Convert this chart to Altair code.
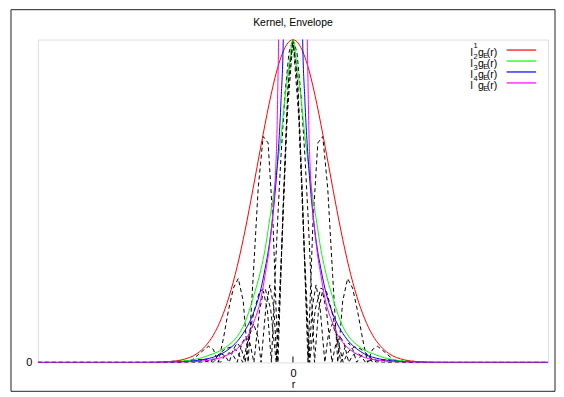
import altair as alt
import pandas as pd

# ---------------- data (half profiles, r >= 0; the chart is mirror-symmetric) -------------
SERIES = ["e1", "e2", "e3", "e4"]
COLORS = ["#ff0000", "#00ff00", "#0000ff", "#ff00ff"]

# envelopes
r_red = [0, 0.5, 1, 1.5, 2, 2.5, 3, 3.5, 4, 4.5, 5, 5.5, 6, 7, 8, 9, 10, 16]
v_red = [1, 0.975, 0.906, 0.80, 0.673, 0.539, 0.41, 0.297, 0.205, 0.135, 0.084, 0.05,
         0.028, 0.0078, 0.0018, 0.0003, 0, 0]

r_green = [0, 0.25, 0.5, 0.75, 1, 1.25, 1.5, 1.75, 2, 2.5, 3, 3.5, 4, 4.5, 5, 5.5, 6, 7, 8, 9, 16]
v_green = [1, 0.92, 0.82, 0.70, 0.60, 0.51, 0.43, 0.35, 0.29, 0.20, 0.125, 0.08, 0.055,
           0.038, 0.027, 0.018, 0.011, 0.004, 0.001, 0, 0]

r_blue = [0.5, 0.6, 0.75, 1, 1.25, 1.5, 1.75, 2, 2.5, 3, 3.5, 4, 4.5, 5, 5.5, 6, 7, 8, 9, 16]
v_blue = [1.6, 1.02, 0.81, 0.60, 0.46, 0.36, 0.29, 0.23, 0.15, 0.10, 0.065, 0.042, 0.026,
          0.016, 0.01, 0.006, 0.002, 0.0005, 0, 0]

r_mag = [0.8, 0.9, 0.95, 1.0, 1.1, 1.25, 1.5, 1.75, 2, 2.5, 2.75, 3, 3.5, 4, 4.5, 5, 6, 7, 8, 16]
v_mag = [1.6, 1.0, 0.85, 0.72, 0.58, 0.47, 0.35, 0.27, 0.20, 0.12, 0.09, 0.07, 0.043, 0.026,
         0.015, 0.009, 0.003, 0.001, 0, 0]

# kernels (dashed)
r_k1 = [0, 0.31, 0.62, 0.94, 1.25, 1.56, 1.87, 2.18, 2.49, 2.81, 3.12, 3.43, 3.74, 4.05, 4.36,
        4.68, 4.99, 5.3, 5.61, 5.92, 6.23, 6.55, 6.86, 7.17, 7.48, 7.79, 8.1, 8.42, 16]
v_k1 = [1, 0.86, 0.48, 0, 0.43, 0.68, 0.70, 0.54, 0.27, 0, 0.19, 0.26, 0.23, 0.16, 0.075,
        0, 0.04, 0.05, 0.038, 0.025, 0.011, 0, 0.005, 0.005, 0.004, 0.002, 0.001, 0, 0]

r_k2 = [0, 0.35, 0.7, 1.05, 1.4, 1.75, 2.1, 2.45, 2.8, 3.15, 3.5, 3.85, 4.2, 4.55, 4.9, 5.25,
        5.6, 5.95, 6.3, 6.65, 7.0, 7.35, 16]
v_k2 = [1, 0.77, 0.36, 0, 0.165, 0.23, 0.22, 0.156, 0.072, 0, 0.035, 0.048, 0.043, 0.03,
        0.013, 0, 0.007, 0.009, 0.008, 0.005, 0.002, 0, 0]

r_k3 = [0, 0.2, 0.4, 0.6, 0.8, 1.0, 1.2, 1.45, 1.7, 2.0, 2.2, 2.47, 2.75, 3.0, 3.25, 3.5,
        3.75, 4.0, 4.25, 4.5, 4.75, 5.0, 5.5, 6.0, 6.5, 7, 16]
v_k3 = [1, 0.93, 0.75, 0.49, 0.22, 0, 0.17, 0.24, 0.17, 0, 0.08, 0.12, 0.08, 0, 0.045, 0.06,
        0.04, 0, 0.02, 0.027, 0.018, 0, 0.01, 0, 0.004, 0, 0]

r_k4 = [0, 0.25, 0.5, 0.75, 0.94, 1.1, 1.25, 1.35, 1.6, 1.85, 2.1, 2.45, 2.7, 2.95, 3.2, 3.5,
        3.75, 4.0, 4.25, 4.55, 5.05, 5.6, 6.1, 16]
v_k4 = [1, 0.96, 0.83, 0.64, 0.46, 0.29, 0.12, 0, 0.16, 0.22, 0.16, 0, 0.06, 0.08, 0.06, 0,
        0.022, 0.03, 0.022, 0, 0.01, 0, 0, 0]

legend_digits = ["1", "2", "3", "4"]
title_text = "Kernel, Envelope"
x_tick_values = [0]
y_tick_values = [0]


# ---------------- build tables -------------
def mirror(rs, vs, name):
    rows = [(-r, v, name) for r, v in zip(rs, vs) if r > 0][::-1]
    rows += [(r, v, name) for r, v in zip(rs, vs)]
    return pd.DataFrame(rows, columns=["r", "v", "s"])


env_df = pd.concat([mirror(r_red, v_red, "e1"), mirror(r_green, v_green, "e2"),
                    mirror(r_blue, v_blue, "e3"), mirror(r_mag, v_mag, "e4")])
ker_df = pd.concat([mirror(r_k1, v_k1, "k1"), mirror(r_k2, v_k2, "k2"),
                    mirror(r_k3, v_k3, "k3"), mirror(r_k4, v_k4, "k4")])
leg_df = pd.DataFrame({"k": [0, 1, 2, 3], "s": SERIES, "c": COLORS, "d": legend_digits})
one = pd.DataFrame({"a": [0]})

W, H = 512, 324
FONT = "Liberation Sans"

xaxis = alt.Axis(values=x_tick_values, title="r", ticks=False, domain=False, grid=False,
                 labelFont=FONT, labelFontSize=11, labelColor="#000", labelPadding=5,
                 titleFont=FONT, titleFontSize=11, titleFontWeight="normal",
                 titleColor="#000", titlePadding=0)
yaxis = alt.Axis(values=y_tick_values, title=None, ticks=False, domain=False, grid=False,
                 labelFont=FONT, labelFontSize=11, labelColor="#000", labelPadding=6)
xs = alt.Scale(domain=[-16, 16], nice=False, zero=False)
ys = alt.Scale(domain=[0, 1], nice=False)


def X(field):
    return alt.X(field, type="quantitative", scale=xs, axis=xaxis)


def Y(field):
    return alt.Y(field, type="quantitative", scale=ys, axis=yaxis)


cscale = alt.Scale(domain=SERIES, range=COLORS)

envelopes = alt.Chart(env_df).mark_line(strokeWidth=1, clip=True, interpolate="monotone").encode(
    x=X("r"), y=Y("v"), color=alt.Color("s:N", scale=cscale, legend=None))

kernels = alt.Chart(ker_df).mark_line(strokeWidth=1, clip=True, color="#000",
                                      strokeDash=[4, 3]).encode(
    x=X("r"), y=Y("v"), detail="s:N")

# x tick at 0 (inward)
tick_b = alt.Chart(one).mark_rule(color="#000", strokeWidth=1).encode(
    x=alt.X("a:Q", scale=xs, axis=xaxis), y=alt.value(H), y2=alt.value(H - 6))

# legend (gnuplot-style key, upper right, sample line at the right)
leg_base = alt.Chart(leg_df).transform_calculate(
    ly="1 - (10.5 + 11 * datum.k) / 324",
    ty="1 - (13.5 + 11 * datum.k) / 324",
    sy="1 - (6.5 + 11 * datum.k) / 324",
    ey="1 - (16.5 + 11 * datum.k) / 324",
    x1="13.4", x2="15.25",
    xl="11.13", xd="11.33", xg="11.6", xe="11.93", xr="12.16",
)
leg_lines = leg_base.mark_rule(strokeWidth=1.2).encode(
    x=X("x1:Q"), x2="x2:Q", y=Y("ly:Q"), stroke=alt.Stroke("c:N", scale=None))
txt = dict(font=FONT, color="#000", baseline="middle", align="left")
leg_l = leg_base.mark_text(fontSize=10.5, text="l", **txt).encode(x=X("xl:Q"), y=Y("ty:Q"))
leg_d = leg_base.mark_text(fontSize=7.5, **txt).encode(x=X("xd:Q"), y=Y("sy:Q"), text="d:N")
leg_g = leg_base.mark_text(fontSize=10.5, text="g", **txt).encode(x=X("xg:Q"), y=Y("ty:Q"))
leg_e = leg_base.mark_text(fontSize=7.5, text="E", **txt).encode(x=X("xe:Q"), y=Y("ey:Q"))
leg_r = leg_base.mark_text(fontSize=10.5, text="(r)", **txt).encode(x=X("xr:Q"), y=Y("ty:Q"))

title = alt.Chart(one).mark_text(font=FONT, fontSize=10.5, color="#000", text=title_text).encode(
    x=alt.value(W / 2), y=alt.value(-17))

frame = alt.Chart(one).mark_rect(fillOpacity=0, stroke="#222", strokeWidth=1).encode(
    x=alt.value(-27), x2=alt.value(W + 7), y=alt.value(-30), y2=alt.value(H + 29))

chart = alt.layer(
    frame, kernels, envelopes, tick_b, leg_lines, leg_l, leg_d, leg_g, leg_e, leg_r, title
).properties(
    width=W, height=H, padding={"left": 2, "top": 0, "right": 0, "bottom": 0}
).configure_view(stroke="#000", strokeWidth=1).configure(background="#ffffff")

chart.save("out.html", embed_options={"renderer": "svg", "actions": False})
